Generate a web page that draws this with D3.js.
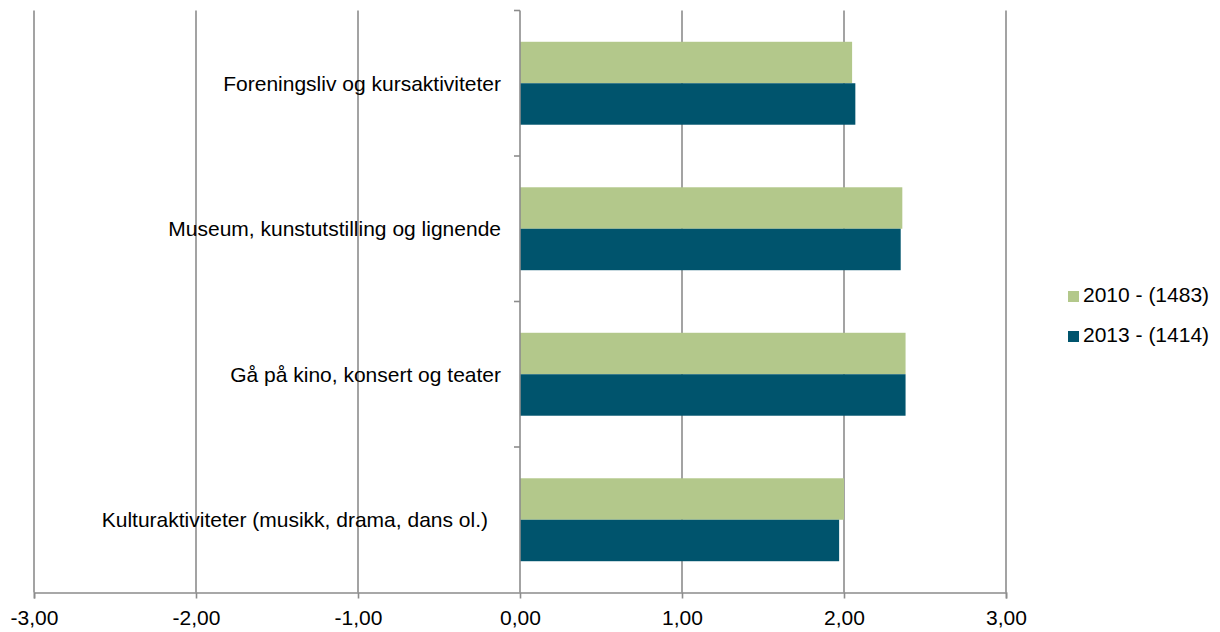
<!DOCTYPE html>
<html>
<head>
<meta charset="utf-8">
<script src="https://d3js.org/d3.v7.min.js"></script>
<style>
  body { margin: 0; background: #fff; }
  svg text { font-family: "Liberation Sans", Arial, sans-serif; fill: #000; }
</style>
</head>
<body>
<div id="chart"></div>
<script>
var categories = [
  "Foreningsliv og kursaktiviteter",
  "Museum, kunstutstilling og lignende",
  "Gå på kino, konsert og teater",
  "Kulturaktiviteter (musikk, drama, dans ol.)"
];
var seriesNames = ["2010 - (1483)", "2013 - (1414)"];
var values2010 = [2.05, 2.36, 2.38, 2.00];
var values2013 = [2.07, 2.35, 2.38, 1.97];
var xTicks = [-3, -2, -1, 0, 1, 2, 3];

var colors = ["#b3c88b", "#00546d"];
var width = 1220, height = 632;
var plotLeft = 34, plotRight = 1006, plotTop = 10.5, plotBottom = 592.5;
var fontSize = "21px";

var svg = d3.select("#chart").append("svg")
    .attr("width", width).attr("height", height);

var x = d3.scaleLinear().domain([-3, 3]).range([plotLeft, plotRight]);
var y = d3.scaleBand().domain(categories).range([plotTop, plotBottom])
    .paddingInner(0.43).paddingOuter(0.215);

// vertical gridlines
svg.append("g").selectAll("line")
  .data(xTicks.filter(function(d) { return d != 0; }))
  .enter().append("line")
    .attr("x1", function(d) { return x(d); })
    .attr("x2", function(d) { return x(d); })
    .attr("y1", plotTop).attr("y2", plotBottom)
    .style("stroke", "#8c8c8c").style("stroke-width", 1.6);

// bars
var series = [values2010, values2013];
var bandH = y.bandwidth() / 2;
series.forEach(function(vals, s) {
  svg.append("g").selectAll("rect")
    .data(vals).enter().append("rect")
      .attr("x", x(0))
      .attr("y", function(d, i) { return y(categories[i]) + s * bandH; })
      .attr("width", function(d) { return x(d) - x(0); })
      .attr("height", bandH)
      .style("fill", colors[s]);
});

// x axis
var xAxis = d3.axisBottom(x).tickValues(xTicks).tickSize(6)
  .tickFormat(function(d) { return d3.format(".2f")(d).replace(".", ",").replace("\u2212", "-"); });
var gx = svg.append("g").attr("transform", "translate(0," + plotBottom + ")").call(xAxis);
gx.select(".domain").style("stroke", "#8c8c8c").style("stroke-width", 1.6);
gx.selectAll(".tick line").style("stroke", "#8c8c8c").style("stroke-width", 1.6);
gx.selectAll(".tick text").attr("y", 32.5).attr("dy", 0)
  .style("font-size", fontSize).style("font-family", "Liberation Sans, Arial, sans-serif").style("fill", "#000");

// y axis at zero
var step = (plotBottom - plotTop) / categories.length;
var boundaries = d3.range(categories.length).map(function(i) { return plotTop + i * step; });
svg.append("line")
  .attr("x1", x(0)).attr("x2", x(0)).attr("y1", plotTop).attr("y2", plotBottom)
  .style("stroke", "#8c8c8c").style("stroke-width", 1.6);
svg.append("g").selectAll("line")
  .data(boundaries).enter().append("line")
    .attr("x1", x(0) - 6).attr("x2", x(0))
    .attr("y1", function(d) { return d; }).attr("y2", function(d) { return d; })
    .style("stroke", "#8c8c8c").style("stroke-width", 1.6);

// category labels
var labelShift = [0, 0, 0, -13];
svg.append("g").selectAll("text")
  .data(categories).enter().append("text")
    .attr("x", function(d, i) { return x(0) - 19 + labelShift[i]; })
    .attr("y", function(d) { return y(d) + y.bandwidth() / 2; })
    .attr("dy", "0.36em")
    .attr("text-anchor", "end")
    .style("font-size", fontSize)
    .text(function(d) { return d; });

// legend
var legend = svg.append("g").attr("transform", "translate(1068,294)");
seriesNames.forEach(function(name, i) {
  legend.append("rect").attr("x", 0).attr("y", i * 40 - 3).attr("width", 11).attr("height", 11)
    .style("fill", colors[i]);
  legend.append("text").attr("x", 15).attr("y", i * 40).attr("dy", "0.36em")
    .style("font-size", fontSize).text(name);
});
</script>
</body>
</html>
